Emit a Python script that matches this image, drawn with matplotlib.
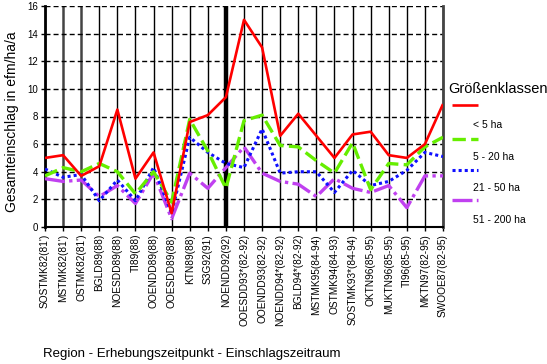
import matplotlib
matplotlib.use("Agg")
import matplotlib.pyplot as plt
from matplotlib.lines import Line2D

plt.rcParams['font.family'] = ['Liberation Sans', 'DejaVu Sans']

categories = ["SOSTMK82(81')", "MSTMK82(81')", "OSTMK82(81')", "BGLD89(88)",
              "NOESDD89(88)", "TI89(88)", "OOENDD89(88)", "OOESDD89(88)",
              "KTN89(88)", "S3G92(91)", "NOENDD92(92)", "OOESDD93*(82-92)",
              "OOENDD93(82-92)", "NOENDD94*(82-92)", "BGLD94*(82-92)",
              "MSTMK95(84-94)", "OSTMK94(84-93)", "SOSTMK93*(84-94)",
              "OKTN96(85-95)", "MUKTN96(85-95)", "TI96(85-95)",
              "MKTN97(82-95)", "SWOOE87(82-95)"]

lt5 = [5.0, 5.2, 3.7, 4.4, 8.5, 3.5, 5.4, 1.0, 7.6, 8.1, 9.4, 15.0, 13.0,
       6.6, 8.2, 6.6, 5.0, 6.7, 6.9, 5.2, 5.0, 6.0, 8.9]
s5_20 = [3.7, 4.3, 4.0, 4.6, 4.0, 2.4, 4.0, 1.8, 7.8, 5.5, 2.8, 7.7, 8.1,
         5.9, 5.8, 4.8, 3.9, 6.1, 2.7, 4.6, 4.5, 5.8, 6.5]
s21_50 = [4.2, 3.6, 3.8, 1.9, 3.4, 1.9, 4.3, 1.0, 6.5, 5.4, 4.6, 4.3, 7.1,
          3.9, 4.0, 4.0, 2.5, 4.1, 3.0, 3.3, 4.1, 5.4, 5.1]
s51_200 = [3.5, 3.3, 3.4, 2.2, 3.0, 1.7, 3.9, 0.6, 3.9, 2.8, 4.3, 5.8, 3.9,
           3.3, 3.1, 2.2, 3.5, 2.8, 2.5, 3.0, 1.4, 3.7, 3.7]

series_labels = ["< 5 ha", "5 - 20 ha", "21 - 50 ha", "51 - 200 ha"]
legend_title = "Größenklassen"
yticks = [0, 2, 4, 6, 8, 10, 12, 14, 16]

W, H = 547, 364
fig = plt.figure(figsize=(W/100, H/100), dpi=100)
ax = fig.add_axes([45/W, 1-227/H, (443-45)/W, (227-6)/H])

x = list(range(len(categories)))
styles = [
    dict(color='#ff0000', lw=1.9, ls='-'),
    dict(color='#66ee00', lw=2.4, ls=(0, (4, 1.6))),
    dict(color='#1010ff', lw=2.2, ls=(0, (1, 1))),
    dict(color='#c040f0', lw=2.4, ls=(0, (6, 1.3, 1, 1.3))),
]

# grid
for i in x:
    lw = 1.0
    if i in (1, 2):
        lw = 1.8
    if i == 10:
        lw = 3.2
    ax.axvline(i, color='black' if i not in (1, 2) else '#444444', lw=lw, zorder=1)
for yv in yticks[1:]:
    ax.axhline(yv, color='black', lw=1.0, ls=(0, (3.6, 2.2)), zorder=1)

for data, st in zip([s51_200, s21_50, s5_20, lt5], styles[::-1]):
    ax.plot(x, data, zorder=3, solid_capstyle='butt', dash_capstyle='butt', **st)

ax.set_xlim(0, 22)
ax.set_ylim(0, 16)
ax.set_yticks(yticks)
ax.set_yticklabels([str(v) for v in yticks], fontsize=7)
ax.set_xticks(x)
ax.set_xticklabels(categories, rotation=90, fontsize=7.3, va='top')
ax.tick_params(axis='both', length=3, width=1, pad=2)
ax.spines['top'].set_visible(False)
ax.spines['left'].set_linewidth(2)
ax.spines['right'].set_linewidth(2)
ax.spines['right'].set_color('#444444')
ax.spines['bottom'].set_linewidth(1.5)

fig.text(12/W, 1-122/H, "Gesamteinschlag in efm/ha/a", rotation=90,
         ha='center', va='center', fontsize=10)
fig.text(43/W, 1-354/H, "Region - Erhebungszeitpunkt - Einschlagszeitraum",
         ha='left', va='center', fontsize=9.5)

# legend
fig.text(448/W, 1-89/H, legend_title, ha='left', va='center', fontsize=10.5)
line_y = [105, 139, 170, 200]
text_y = [125, 157, 188, 220]
for st, ly, ty, lab in zip(styles, line_y, text_y, series_labels):
    fig.add_artist(Line2D([452/W, 478/W], [1-ly/H, 1-ly/H], transform=fig.transFigure,
                          solid_capstyle='butt', dash_capstyle='butt', **st))
    fig.text(473/W, 1-ty/H, lab, ha='left', va='center', fontsize=7.5)

fig.savefig("out.png", dpi=100)
